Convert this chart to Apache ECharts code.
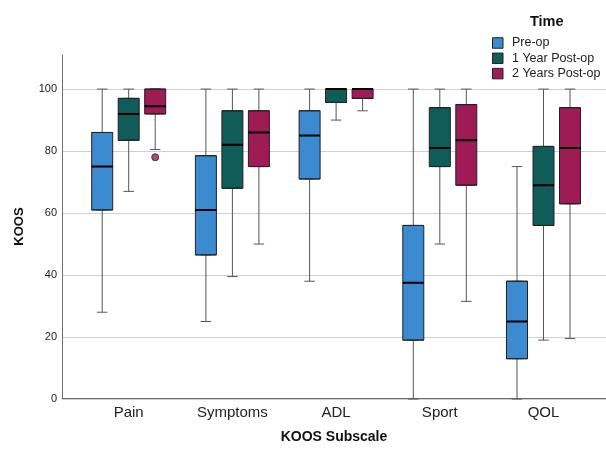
<!DOCTYPE html>
<html>
<head>
<meta charset="utf-8">
<script src="https://cdn.jsdelivr.net/npm/echarts@6/dist/echarts.min.js"></script>
<style>
html,body{margin:0;padding:0;background:#fff;}
#chart{width:606px;height:449px;}
</style>
</head>
<body>
<div id="chart"></div>
<script>
// ---- data ----
const categories = ['Pain', 'Symptoms', 'ADL', 'Sport', 'QOL'];
const seriesNames = ['Pre-op', '1 Year Post-op', '2 Years Post-op'];
// [min, Q1, median, Q3, max]
const preOp = [
  [28, 61, 75, 86, 100],
  [25, 46.5, 61, 78.5, 100],
  [38, 71, 85, 93, 100],
  [0, 19, 37.5, 56, 100],
  [0, 13, 25, 38, 75]
];
const year1 = [
  [67, 83.5, 92, 97, 100],
  [39.5, 68, 82, 93, 100],
  [90, 95.7, 100, 100, 100],
  [50, 75, 81, 94, 100],
  [19, 56, 69, 81.5, 100]
];
const year2 = [
  [80.5, 92, 94.5, 100, 100],
  [50, 75, 86, 93, 100],
  [93, 97, 100, 100, 100],
  [31.5, 69, 83.5, 95, 100],
  [19.5, 63, 81, 94, 100]
];
const outlierCategory = ['Pain'];
const outlierValue = [78];

const colors = ['#3C8AD0', '#0F5C59', '#9E1B55'];
const groups = [preOp, year1, year2];
const FONT = '"Liberation Sans", Arial, sans-serif';

const chart = echarts.init(document.getElementById('chart'));

const TOP = 55, BOTTOM = 50, YMAX = 111;
// first/last category centres of the middle series; offset between series
const BASE_LEFT = 128.7, PLOT_W = 414.8, STEP = 26.5;

const grids = [
  {left: 62, right: 0, top: TOP, bottom: BOTTOM},            // 0 frame
  {left: 62, right: 0, top: 89.1, bottom: BOTTOM}             // 1 ticks + gridlines (0..100)
];
const xAxes = [
  {
    gridIndex: 0, type: 'value', min: 0, max: 1,
    axisLabel: {show: false}, axisTick: {show: false}, splitLine: {show: false},
    axisLine: {show: true, lineStyle: {color: '#6e6e6e', width: 1}},
    name: 'KOOS Subscale', nameLocation: 'middle', nameGap: 32,
    nameTextStyle: {fontFamily: FONT, fontSize: 14, fontWeight: 'bold', color: '#111'}
  },
  {gridIndex: 1, type: 'value', min: 0, max: 1, show: false}
];
const yAxes = [
  {
    gridIndex: 0, type: 'value', min: 0, max: YMAX,
    axisLine: {show: true, lineStyle: {color: '#6e6e6e', width: 1}},
    axisTick: {show: false}, axisLabel: {show: false}, splitLine: {show: false},
    name: 'KOOS', nameLocation: 'middle', nameGap: 36,
    nameTextStyle: {fontFamily: FONT, fontSize: 13, fontWeight: 'bold', color: '#111'}
  },
  {
    gridIndex: 1, type: 'value', min: 0, max: 100, interval: 20,
    axisLine: {show: false}, axisTick: {show: false},
    axisLabel: {fontFamily: FONT, fontSize: 11, color: '#222', margin: 5},
    splitLine: {show: true, lineStyle: {color: '#cfcfcf', width: 1}}
  }
];
const series = [];

// one grid per (layer, time point) so each box sits at its own offset
function addGrid(i, showLabels) {
  const idx = grids.length;
  grids.push({left: BASE_LEFT + (i - 1) * STEP, width: PLOT_W, top: TOP, bottom: BOTTOM});
  const ax = {gridIndex: idx, type: 'category', data: categories, boundaryGap: false};
  if (showLabels) {
    ax.axisLine = {show: false};
    ax.axisTick = {show: false};
    ax.splitLine = {show: false};
    ax.axisLabel = {fontFamily: FONT, fontSize: 15, color: '#222', margin: 6};
  } else {
    ax.show = false;
  }
  xAxes.push(ax);
  yAxes.push({gridIndex: idx, type: 'value', min: 0, max: YMAX, show: false});
  return idx;
}

groups.forEach(function (g, i) {
  const gw = addGrid(i, false);
  series.push({
    type: 'boxplot', name: seriesNames[i] + ' whisker',
    xAxisIndex: gw, yAxisIndex: gw, z: 2, silent: true,
    boxWidth: [10.5, 10.5],
    itemStyle: {color: '#fff', borderColor: '#555', borderWidth: 1},
    emphasis: {disabled: true},
    data: g.map(function (d) { return d.slice(); })
  });
  const gb = addGrid(i, i === 1);
  series.push({
    type: 'boxplot', name: seriesNames[i],
    xAxisIndex: gb, yAxisIndex: gb, z: 3, silent: true,
    boxWidth: [21, 21],
    itemStyle: {color: colors[i], borderColor: '#222', borderWidth: 1},
    emphasis: {disabled: true},
    data: g.map(function (d) { return [d[1], d[1], d[2], d[3], d[3]]; })
  });
  if (i === 2) {
    series.push({
      type: 'scatter', name: seriesNames[i] + ' outlier',
      xAxisIndex: gb, yAxisIndex: gb, z: 5, silent: true,
      symbol: 'circle', symbolSize: 7,
      itemStyle: {color: colors[i], borderColor: '#222', borderWidth: 1},
      data: outlierCategory.map(function (c, k) { return [c, outlierValue[k]]; })
    });
  }
  const gm = addGrid(i, false);
  series.push({
    type: 'boxplot', name: seriesNames[i] + ' median',
    xAxisIndex: gm, yAxisIndex: gm, z: 4, silent: true,
    boxWidth: [21, 21],
    itemStyle: {color: 'none', borderColor: '#000', borderWidth: 2},
    emphasis: {disabled: true},
    data: g.map(function (d) { return [d[2], d[2], d[2], d[2], d[2]]; })
  });
});

chart.setOption({
  animation: false,
  textStyle: {fontFamily: FONT},
  title: {
    text: 'Time', left: 525, top: 9.5,
    textStyle: {fontFamily: FONT, fontSize: 14.5, fontWeight: 'bold', color: '#111'}
  },
  legend: {
    data: seriesNames.map(function (n, i) {
      return {name: n, itemStyle: {color: colors[i], borderColor: '#222', borderWidth: 1}};
    }),
    orient: 'vertical', left: 487, top: 31.5,
    icon: 'rect', itemWidth: 10.5, itemHeight: 10.5, itemGap: 2.3,
    selectedMode: false,
    textStyle: {fontFamily: FONT, fontSize: 12.5, color: '#222', padding: [0, 0, 0, 4]}
  },
  grid: grids,
  xAxis: xAxes,
  yAxis: yAxes,
  series: series
});
</script>
</body>
</html>
